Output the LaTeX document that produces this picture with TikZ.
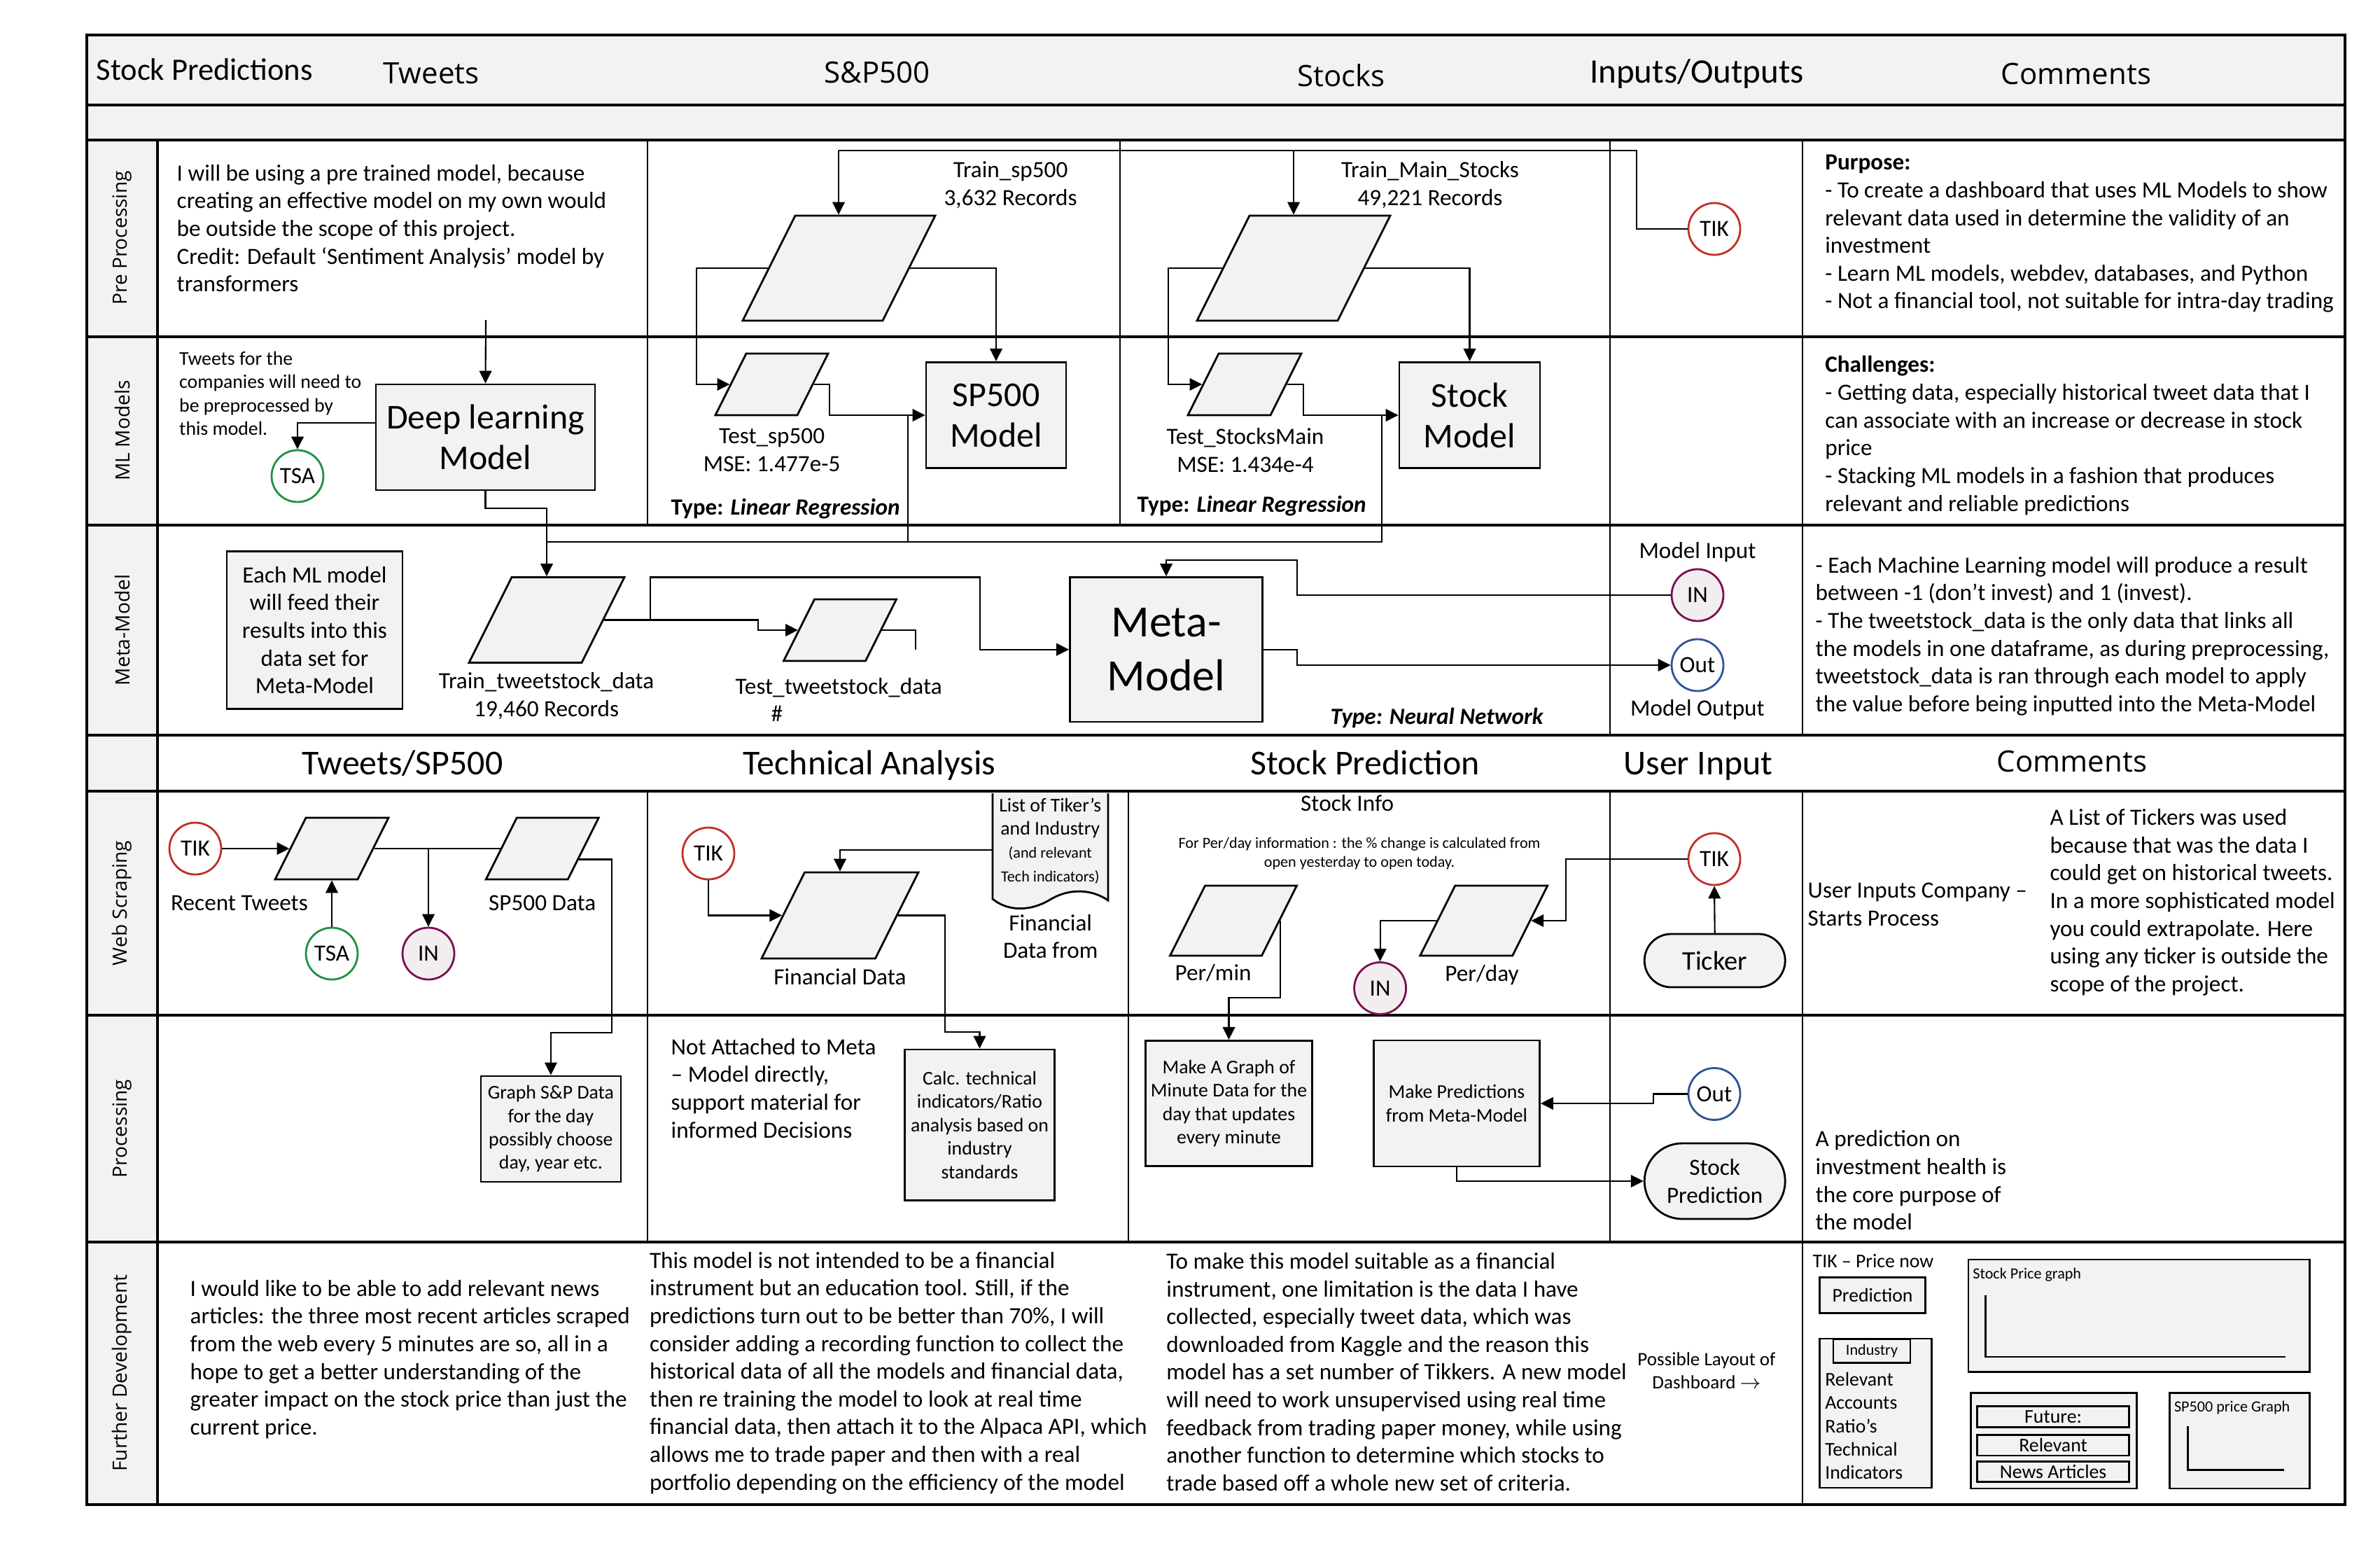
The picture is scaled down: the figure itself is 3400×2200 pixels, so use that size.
\documentclass[tikz,border=0pt]{standalone}
\usepackage{fontspec}
\setmainfont{Carlito}
\newfontfamily\lanefont{Open Sans}
\usepackage{tikz}
\usetikzlibrary{arrows.meta,calc,shapes.geometric,shapes.misc}

\definecolor{cellgray}{HTML}{F2F2F2}
\definecolor{tikred}{HTML}{C0302A}
\definecolor{tsagreen}{HTML}{1F9142}
\definecolor{inpurple}{HTML}{7A1050}
\definecolor{infill}{HTML}{F2EEF0}
\definecolor{outblue}{HTML}{2F5597}
\newcommand{\fsz}[2]{\fontsize{#1}{#2}\selectfont}
\newcommand{\fbody}{\fsz{9.45}{11.27}}
\newcommand{\fsmall}{\fsz{7.9}{9.5}}
\newcommand{\ftiny}{\fsz{6.3}{7.7}}
\newcommand{\fbig}{\fsz{14.2}{16.5}}

\begin{document}
\begin{tikzpicture}[x=0.1mm, y=-0.1mm, >={Triangle[length=5.1pt,width=5pt]},
    rowline/.style={line width=0.9pt},
    colline/.style={line width=0.45pt},
    lnk/.style={line width=0.6pt},
    arr/.style={->, line width=0.6pt},
    procbox/.style={draw, line width=0.8pt, fill=cellgray, inner sep=0pt, align=center},
    % #1 = total width, #2 = half height
    datashape/.style 2 args={trapezium, trapezium left angle=63.43, trapezium right angle=116.57,
        trapezium stretches body, draw, line width=0.8pt, fill=cellgray,
        inner xsep=0pt, inner ysep=#2, minimum width=#1},
    circnode/.style={circle, draw=#1, line width=0.8pt, fill=white, minimum size=7.4mm,
        inner sep=0pt, font=\fbody},
    termnode/.style={rounded rectangle, draw, line width=0.8pt, fill=cellgray, align=center,
        inner sep=0pt, minimum width=20.1mm, font=\fbody},
    txtbody/.style={font=\fbody, inner sep=0pt, align=left},
    txtsmall/.style={font=\fsmall, inner sep=0pt, align=center},
    txttiny/.style={font=\ftiny, inner sep=0pt, align=center},
    hdr/.style={font=\fsz{14.2}{16}, inner sep=0pt, anchor=base},
    hdrsans/.style={font=\lanefont\fsz{11.95}{14}, inner sep=0pt, anchor=base},
    lane/.style={font=\lanefont\fsz{8}{10}, rotate=90, inner sep=0pt}]
  \useasboundingbox (0,0) rectangle (3400,2200);
  % grey bands and lane column
  \fill[cellgray] (124,50) rectangle (3350,200);
  \fill[cellgray] (124,200) rectangle (225,2149);
  % table grid
  \draw[rowline] (124,50) rectangle (3350,2149);
  \foreach \y in {150,200,481,750,1050,1130,1450,1774}
    \draw[rowline] (124,\y) -- (3350,\y);
  \draw[rowline] (225,200) -- (225,2149);
  \foreach \x in {925,1600,2300,2575}
    \draw[colline] (\x,200) -- (\x,750);
  \foreach \x in {2300,2575}
    \draw[colline] (\x,750) -- (\x,1050);
  \foreach \x in {925,1612,2300,2575}
    \draw[colline] (\x,1130) -- (\x,1774);
  \draw[colline] (2575,1774) -- (2575,2149);

  % lane labels
  \node[lane] (lPre) at (174.5,340) {Pre Processing};
  \node[lane] (lML) at (174.5,615) {ML Models};
  \node[lane] (lMeta) at (174.5,900) {Meta-Model};
  \node[lane] (lWeb) at (174.5,1290) {Web Scraping};
  \node[lane] (lProc) at (174.5,1612) {Processing};
  \node[lane] (lFur) at (174.5,1961) {Further Development};

  % column headers
  \node[hdr, anchor=base west, font=\fsz{12.66}{14}] (title) at (137,114) {Stock Predictions};
  \node[hdrsans] (hTweets) at (616,119) {Tweets};
  \node[hdrsans] (hSP) at (1253,118.5) {S\&P500};
  \node[hdrsans] (hStocks) at (1916,123) {Stocks};
  \node[hdr, font=\fsz{13.95}{16}] (hIO) at (2424,118) {Inputs/Outputs};
  \node[hdrsans] (hCom) at (2966,120) {Comments};
  \node[hdr] (hTS) at (575,1106) {Tweets/SP500};
  \node[hdr] (hTA) at (1242,1106) {Technical Analysis};
  \node[hdr] (hSPr) at (1950,1106) {Stock Prediction};
  \node[hdr] (hUI) at (2426,1106) {User Input};
  \node[hdrsans] (hCom2) at (2960,1102.5) {Comments};

  % pre processing
  \node[txtbody, anchor=west] (preTw) at (252,326) {I will be using a pre trained model, because\\creating an effective model on my own would\\be outside the scope of this project.\\Credit: Default ‘Sentiment Analysis’ model by\\transformers};
  \coordinate (preOut) at (694,457);
  \node[datashape={27.5mm}{7.5mm}] (trsp) at (1198.5,383) {};
  \node[txtbody, align=center] (lblTrsp) at (1443.6,264) {Train\_sp500\\3,632 Records};
  \node[datashape={27.6mm}{7.5mm}] (trst) at (1848,383) {};
  \node[txtbody, align=center] (lblTrst) at (2043,264) {Train\_Main\_Stocks\\49,221 Records};
  \node[circnode=tikred] (tikA) at (2449,327) {TIK};
  \node[txtbody, anchor=west] (purpose) at (2606.6,334) {\textbf{Purpose:}\\- To create a dashboard that uses ML Models to show\\relevant data used in determine the validity of an\\investment\\- Learn ML models, webdev, databases, and Python\\- Not a financial tool, not suitable for intra-day trading};

  % ML models
  \node[txtsmall, align=left, anchor=west] (twNote) at (255.5,562) {Tweets for the\\companies will need to\\be preprocessed by\\this model.};
  \node[procbox, font=\fbig, minimum width=31.3mm, minimum height=15.1mm] (dlm) at (693.5,624.5) {Deep learning\\Model};
  \node[circnode=tsagreen] (tsaA) at (425,680) {TSA};
  \node[datashape={16.1mm}{4.4mm}] (tesp) at (1102.5,549) {};
  \node[txtbody, align=center] (lblTesp) at (1102.6,643) {Test\_sp500\\MSE: 1.477e-5};
  \node[txtbody, anchor=base west] (typeA) at (958,735) {\textbf{Type: \textit{Linear Regression}}};
  \node[procbox, font=\fbig, minimum width=20mm, minimum height=15.15mm] (spm) at (1423,593) {SP500\\Model};
  \node[datashape={16.2mm}{4.4mm}] (test) at (1778,549) {};
  \node[txtbody, align=center] (lblTest) at (1779,643) {Test\_StocksMain\\MSE: 1.434e-4};
  \node[txtbody, anchor=base west] (typeB) at (1624,731) {\textbf{Type: \textit{Linear Regression}}};
  \node[procbox, font=\fbig, minimum width=20.1mm, minimum height=15.15mm] (stm) at (2099.5,593) {Stock\\Model};
  \node[txtbody, anchor=west] (challenges) at (2606.6,622) {\textbf{Challenges:}\\- Getting data, especially historical tweet data that I\\can associate with an increase or decrease in stock\\price\\- Stacking ML models in a fashion that produces\\relevant and reliable predictions};

  % meta model
  \node[procbox, font=\fbody, minimum width=25.1mm, minimum height=22.56mm] (feedNote) at (449.5,900) {Each ML model\\will feed their\\results into this\\data set for\\Meta-Model};
  \node[datashape={22.2mm}{6.1mm}] (trtw) at (781,885.5) {};
  \node[txtbody, align=center] (lblTrtw) at (780.6,994) {Train\_tweetstock\_data\\19,460 Records};
  \node[datashape={16.1mm}{4.4mm}] (tetw) at (1200,900) {};
  \node[txtbody, anchor=west] (lblTetw) at (1050,999.5) {Test\_tweetstock\_data\\\hspace*{14.5pt}\#};
  \node[procbox, font=\fsz{18.2}{21.9}, minimum width=27.5mm, minimum height=20.65mm] (meta) at (1666,927.7) {Meta-\\Model};
  \node[txtbody, anchor=base west] (typeC) at (1900,1034) {\textbf{\textit{Type: Neural Network}}};
  \node[txtbody, anchor=base] (lblIn) at (2425,797.5) {Model Input};
  \node[circnode=inpurple, fill=infill] (inA) at (2425,850) {IN};
  \node[circnode=outblue] (outA) at (2425,950) {Out};
  \node[txtbody, anchor=base] (lblOut) at (2425,1022.4) {Model Output};
  \node[txtbody, anchor=west] (metaNote) at (2593,908.7) {- Each Machine Learning model will produce a result\\between -1 (don’t invest) and 1 (invest).\\- The tweetstock\_data is the only data that links all\\the models in one dataframe, as during preprocessing,\\tweetstock\_data is ran through each model to apply\\the value before being inputted into the Meta-Model};

  % web scraping
  \node[circnode=tikred] (tikB) at (279,1212) {TIK};
  \node[datashape={16.2mm}{4.4mm}] (rtw) at (474,1212) {};
  \node[txtbody, anchor=base] (lblRtw) at (342,1300) {Recent Tweets};
  \node[circnode=tsagreen] (tsaB) at (474,1362) {TSA};
  \node[circnode=inpurple, fill=infill] (inB) at (612,1362) {IN};
  \node[datashape={16.1mm}{4.4mm}] (spd) at (774.7,1212) {};
  \node[txtbody, anchor=base] (lblSpd) at (774.7,1300) {SP500 Data};
  \node[circnode=tikred] (tikC) at (1012,1219) {TIK};
  \node[datashape={22.4mm}{6.15mm}] (fin) at (1200,1307.5) {};
  \node[txtbody, anchor=base] (lblFin) at (1200,1406) {Financial Data};
  \draw[line width=0.8pt, fill=cellgray] (1418,1133) -- (1418,1284)
    .. controls (1440,1302) and (1472,1302) .. (1500,1285)
    .. controls (1528,1268) and (1560,1270) .. (1583,1286) -- (1583,1133);
  \node[txtsmall, minimum width=16.5mm] (doc) at (1500.3,1201) {List of Tiker’s\\and Industry\\{\ftiny(and relevant}\\{\ftiny Tech indicators)}};
  \node[txtbody, align=center] (lblDoc) at (1500.7,1337.7) {Financial\\Data from};
  \node[txtbody, anchor=base] (stInfo) at (1924.6,1158) {Stock Info};
  \node[txttiny] (perNote) at (1942,1219.5) {For Per/day information : the \% change is calculated from\\open yesterday to open today.};
  \node[datashape={18.1mm}{5mm}] (pmin) at (1762,1315) {};
  \node[txtbody, anchor=base] (lblPmin) at (1733,1400.5) {Per/min};
  \node[datashape={18.2mm}{5mm}] (pday) at (2119.7,1315) {};
  \node[txtbody, anchor=base] (lblPday) at (2117,1401) {Per/day};
  \node[circnode=inpurple, fill=infill] (inC) at (1971.6,1411.5) {IN};
  \node[circnode=tikred] (tikD) at (2449,1227) {TIK};
  \node[termnode, font=\fsz{10.95}{13}, minimum height=7.6mm] (ticker) at (2449.7,1372) {Ticker};
  \node[txtbody, anchor=west] (userNote) at (2582,1291.7) {User Inputs Company –\\Starts Process};
  \node[txtbody, anchor=west] (tickNote) at (2927.8,1288.8) {A List of Tickers was used\\because that was the data I\\could get on historical tweets.\\In a more sophisticated model\\you could extrapolate. Here\\using any ticker is outside the\\scope of the project.};

  % processing
  \node[procbox, font=\fsmall, minimum width=20mm, minimum height=15.1mm] (gsp) at (786.9,1612.4) {Graph S\&P Data\\for the day\\possibly choose\\day, year etc.};
  \node[txtbody, anchor=west] (notAtt) at (958,1554.3) {Not Attached to Meta\\– Model directly,\\support material for\\informed Decisions};
  \node[procbox, font=\fsmall, minimum width=21.4mm, minimum height=21.56mm] (calc) at (1399.5,1606.8) {Calc. technical\\indicators/Ratio\\analysis based on\\industry\\standards};
  \node[procbox, font=\fsmall, minimum width=23.8mm, minimum height=17.94mm] (mkgraph) at (1755.5,1576) {Make A Graph of\\Minute Data for the\\day that updates\\every minute};
  \node[procbox, font=\fsmall, minimum width=23.7mm, minimum height=18mm] (mkpred) at (2081,1576) {Make Predictions\\from Meta-Model};
  \node[circnode=outblue] (outB) at (2449,1562.5) {Out};
  \node[termnode, minimum height=10.8mm] (stpred) at (2449.7,1687) {Stock\\Prediction};
  \node[txtbody, anchor=west] (predNote) at (2593,1685.9) {A prediction on\\investment health is\\the core purpose of\\the model};

  % further development
  \node[txtbody, anchor=west] (fdA) at (270.9,1941.5) {I would like to be able to add relevant news\\articles: the three most recent articles scraped\\from the web every 5 minutes are so, all in a\\hope to get a better understanding of the\\greater impact on the stock price than just the\\current price.};
  \node[txtbody, anchor=west] (fdB) at (927.3,1961) {This model is not intended to be a financial\\instrument but an education tool. Still, if the\\predictions turn out to be better than 70\%, I will\\consider adding a recording function to collect the\\historical data of all the models and financial data,\\then re training the model to look at real time\\financial data, then attach it to the Alpaca API, which\\allows me to trade paper and then with a real\\portfolio depending on the efficiency of the model};
  \node[txtbody, anchor=west] (fdC) at (1665.7,1959.4) {To make this model suitable as a financial\\instrument, one limitation is the data I have\\collected, especially tweet data, which was\\downloaded from Kaggle and the reason this\\model has a set number of Tikkers. A new model\\will need to work unsupervised using real time\\feedback from trading paper money, while using\\another function to determine which stocks to\\trade based off a whole new set of criteria.};
  \node[txtsmall, font=\fsz{7.7}{9.5}] (layout) at (2438,1957.5) {Possible Layout of\\Dashboard $\rightarrow$};

  % dashboard sketch
  \node[txtsmall, anchor=base west] (tikNow) at (2589,1810) {TIK – Price now};
  \node[procbox, font=\fsmall, minimum width=15.1mm, minimum height=5.12mm] (dPred) at (2675,1850.2) {Prediction};
  \node[procbox, minimum width=16mm, minimum height=21.3mm] (dInd) at (2679.5,2018.5) {};
  \node[procbox, font=\ftiny, minimum width=11mm, minimum height=3.36mm] (dTag) at (2674,1929.8) {Industry};
  \node[txtsmall, align=left, anchor=west] (dIndTxt) at (2606.6,2036.5) {Relevant\\Accounts\\Ratio’s\\Technical\\Indicators};
  \node[procbox, minimum width=48.76mm, minimum height=16.05mm] (dGraph) at (3055.8,1879.3) {};
  \node[txttiny, anchor=base west] (dGraphLbl) at (2817.7,1826) {Stock Price graph};
  \draw[line width=0.8pt] (2836.6,1850) -- (2836.6,1938) -- (3264.6,1938);
  \node[procbox, minimum width=23.71mm, minimum height=13.64mm] (dNews) at (2934.2,2057.8) {};
  \node[procbox, font=\fsmall, minimum width=21.68mm, minimum height=2.96mm] (dFut) at (2933.1,2023.6) {Future:};
  \node[procbox, font=\fsmall, minimum width=21.68mm, minimum height=2.96mm] (dRel) at (2933.1,2064.2) {Relevant};
  \node[procbox, font=\fsmall, minimum width=21.68mm, minimum height=2.87mm] (dArt) at (2933.1,2102) {News Articles};
  \node[procbox, minimum width=20mm, minimum height=13.64mm] (dSP) at (3199.7,2057.8) {};
  \node[txttiny, anchor=base west] (dSPLbl) at (3105.3,2016) {SP500 price Graph};
  \draw[line width=0.8pt] (3125.7,2037.4) -- (3125.7,2099.6) -- (3263,2099.6);

  % connectors: pre processing and ML models
  \draw[arr] (preOut) -- (dlm.north);
  \draw[arr] (dlm.west |- 0,604) -| (tsaA.north);
  \draw[lnk] (tikA.west) -| (2338,215) -- (1198,215);
  \draw[arr] (1198,215) -- (1198,0 |- trsp.north);
  \draw[arr] (1848,215) -- (1848,0 |- trst.north);
  \draw[arr] (trsp.left side) -| (995,549) -- (tesp.left side);
  \draw[arr] (trsp.right side) -| (spm.north);
  \draw[arr] (tesp.right side) -| (1185,593) -- (spm.west);
  \draw[arr] (trst.left side) -| (1669,549) -- (test.left side);
  \draw[arr] (trst.right side) -| (stm.north);
  \draw[arr] (test.right side) -| (1862,593) -- (stm.west);
  % model outputs feed the meta data set
  \draw[lnk] (1297,593) -- (1297,774);
  \draw[lnk] (1974,593) |- (781,774);
  \draw[arr] (dlm.south) -- ++(0,25) -| (trtw.center |- trtw.north);
  \draw[arr] (trtw.right side) -| (1083,900) -- (tetw.left side);
  \draw[arr] (929,0 |- trtw.right side) |- (1400,824.5) |- (meta.west);
  \draw[lnk] (tetw.right side) -| (1308,0 |- meta.west);
  \draw[arr] (inA.west) -| (1853,800) -| (meta.north);
  \draw[arr] (meta.east) -| (1853,0 |- outA.west) -- (outA.west);

  % connectors: web scraping and processing
  \draw[arr] (tikB.east) -- (rtw.left side);
  \draw[arr] (tsaB.north) -- (tsaB.north |- rtw.south);
  \draw[lnk] (rtw.right side) -- (spd.left side);
  \draw[arr] (inB.north |- rtw.right side) -- (inB.north);
  \coordinate (spdOut) at ($(spd.top right corner)!0.67!(spd.bottom right corner)$);
  \draw[arr] (spdOut) -| (874,1475) -| (gsp.north);
  \draw[arr] (tikC.south) |- (fin.left side);
  \draw[arr] (doc.west |- 0,1214) -| (fin.center |- fin.north);
  \draw[arr] (fin.right side) -| (1350,1474) -| (calc.north);
  \draw[arr] (pmin.right side) -- ++(0,110) -| (mkgraph.north);
  \draw[arr] (tikD.west) -| ($(pday.right side)+(50,0)$) -- (pday.right side);
  \draw[arr] (pday.left side) -| (inC.north);
  \draw[arr] (ticker.north) -- (tikD.south);
  \draw[arr] (outB.west) -- ++(-49,0) |- (mkpred.east);
  \draw[arr] (mkpred.south) |- (stpred.west);
\end{tikzpicture}
\end{document}
